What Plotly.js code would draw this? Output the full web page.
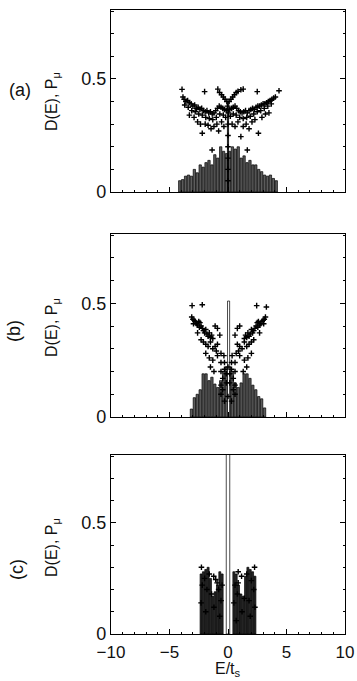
<!DOCTYPE html>
<html>
<head>
<meta charset="utf-8">
<script src="https://cdn.plot.ly/plotly-3.0.1.min.js"></script>
<style>
  body { margin: 0; background: #fff; }
  #chart { width: 357px; height: 681px; }
</style>
</head>
<body>
<div id="chart"></div>
<script>
// panel (a): density of states histogram (bin centres, heights)
var aBinE = [-4.125, -3.875, -3.625, -3.375, -3.125, -2.875, -2.625, -2.375, -2.125, -1.875, -1.625, -1.375,
  -1.125, -0.875, -0.625, -0.375, -0.125, 0.125, 0.375, 0.625, 0.875, 1.125, 1.375, 1.625, 1.875, 2.125,
  2.375, 2.625, 2.875, 3.125, 3.375, 3.625, 3.875, 4.125];
var aBinD = [0.05, 0.055, 0.07, 0.075, 0.07, 0.1, 0.085, 0.12, 0.11, 0.13, 0.14, 0.12,
  0.165, 0.15, 0.2, 0.18, 0.17, 0.18, 0.2, 0.19, 0.2, 0.15, 0.16, 0.13, 0.14, 0.12,
  0.12, 0.1, 0.09, 0.075, 0.07, 0.075, 0.06, 0.05];
var aSpikeE = [0];
var aSpikeD = [0.40];
// panel (a): P_mu points
var aPtE = [-3.93, -2.0, -0.87, 1.3, 2.5, 4.36,
  -0.72, -0.55, -0.4, -0.25, -0.1, 0.1, 0.25, 0.4, 0.55, 0.7, 0.85, 1.1,
  -3.85, -3.75, -3.6, -3.45, -3.3, -3.15, -3.0, -2.85, -2.7, -2.55, -2.4, -2.25, -2.1, -1.95, -1.8, -1.65,
  -1.5, -1.35, -1.2, -1.05, -0.9, -0.75, -0.6, -0.45, -0.3, -0.15,
  0.15, 0.3, 0.45, 0.6, 0.75, 0.9, 1.05, 1.2, 1.35, 1.5, 1.65, 1.8, 1.95, 2.1, 2.25, 2.4, 2.55, 2.7,
  2.85, 3.0, 3.15, 3.3, 3.45, 3.6, 3.75, 3.9, 4.05,
  -3.7, -3.4, -3.1, -2.8, -2.5, -2.2, -1.9, -1.6, -1.3, -1.0, -0.7, -0.4, -0.2, 0.2, 0.45, 0.7, 1.0, 1.3,
  1.6, 1.9, 2.2, 2.5, 2.8, 3.1, 3.4, 3.7,
  -3.3, -2.9, -2.6, -2.35, -2.2, -1.95, -1.7, -1.45, -1.2, -0.95, -0.8, -0.55, -0.35, 0.35, 0.6, 0.85,
  1.1, 1.3, 1.55, 1.8, 2.05, 2.3, 2.6, 2.9, 3.2, 3.5,
  -1.36, 1.65,
  0, 0, 0, 0, 0, 0, 0.05, -0.05];
var aPtP = [0.454, 0.444, 0.455, 0.455, 0.444, 0.448,
  0.44, 0.43, 0.42, 0.41, 0.40, 0.40, 0.41, 0.42, 0.43, 0.44, 0.445, 0.452,
  0.42, 0.41, 0.40, 0.405, 0.395, 0.39, 0.38, 0.385, 0.37, 0.375, 0.365, 0.37, 0.36, 0.355, 0.36, 0.35,
  0.355, 0.345, 0.35, 0.36, 0.37, 0.38, 0.375, 0.37, 0.365, 0.36,
  0.365, 0.37, 0.375, 0.38, 0.37, 0.36, 0.355, 0.35, 0.355, 0.36, 0.35, 0.36, 0.365, 0.37, 0.365, 0.375, 0.38, 0.38,
  0.385, 0.39, 0.39, 0.395, 0.40, 0.405, 0.41, 0.415, 0.42,
  0.385, 0.375, 0.36, 0.355, 0.345, 0.34, 0.33, 0.325, 0.32, 0.33, 0.345, 0.34, 0.33, 0.335, 0.345, 0.34, 0.33, 0.325,
  0.33, 0.335, 0.345, 0.355, 0.36, 0.37, 0.38, 0.39,
  0.34, 0.33, 0.31, 0.3, 0.26, 0.3, 0.295, 0.28, 0.29, 0.3, 0.27, 0.31, 0.29, 0.3, 0.29, 0.31,
  0.245, 0.29, 0.3, 0.28, 0.31, 0.32, 0.26, 0.33, 0.345, 0.35,
  0.186, 0.186,
  0.05, 0.1, 0.15, 0.2, 0.25, 0.3, 0.35, 0.38];

// panel (b)
var bBinE = [-3.125, -2.875, -2.625, -2.375, -2.125, -1.875, -1.625, -1.375, -1.125, -0.875, -0.625, -0.375, -0.125,
  0.125, 0.375, 0.625, 0.875, 1.125, 1.375, 1.625, 1.875, 2.125, 2.375, 2.625, 2.875, 3.125];
var bBinD = [0.035, 0.085, 0.1, 0.12, 0.19, 0.19, 0.16, 0.175, 0.145, 0.13, 0.16, 0.2, 0.22,
  0.22, 0.2, 0.15, 0.13, 0.15, 0.19, 0.19, 0.17, 0.14, 0.12, 0.09, 0.08, 0.04];
var bSpikeE = [0.05];
var bSpikeD = [0.51];
var bPtE = [-3.07, -2.2, 2.45, 3.28,
  -3.1, -3.0, -2.9, -2.95, -2.8, -2.7, -2.6, -2.5, -2.4, -2.45, -2.3, -2.2, -2.1, -2.0, -1.9, -1.8, -1.7, -1.6, -1.5, -1.4, -1.3,
  -2.3, -2.1, -1.9, -1.7, -1.5, -1.3, -1.1, -0.9, -1.0,
  -2.6, -1.1, -0.9, -0.7, -1.9, -1.6, -1.3, -0.9, -0.6, -1.5, -1.2,
  3.2, 3.1, 3.0, 3.05, 2.9, 2.8, 2.7, 2.6, 2.5, 2.55, 2.4, 2.3, 2.2, 2.1, 2.0, 1.9, 1.8, 1.7, 1.6, 1.5, 1.4,
  2.2, 2.0, 1.8, 1.6, 1.4, 1.2, 1.0, 0.8, 0.9,
  2.7, 1.0, 0.8, 0.6, 2.0, 1.7, 1.4, 1.0, 0.7, 1.6, 1.3,
  -0.6, -0.3, 0.3, 0.6, -0.6, -0.3, 0.3, 0.6, -0.45, 0.45, -0.15, 0.15, -0.45, 0.45, 0, -0.3, 0.3,
  -0.6, 0.6, -0.15, 0.15, -0.35, 0.35, 0, -0.6, 0.6];
var bPtP = [0.49, 0.494, 0.49, 0.484,
  0.44, 0.43, 0.425, 0.41, 0.42, 0.41, 0.405, 0.42, 0.415, 0.395, 0.40, 0.39, 0.38, 0.37, 0.385, 0.365, 0.355, 0.37, 0.35, 0.36, 0.345,
  0.34, 0.33, 0.32, 0.31, 0.33, 0.30, 0.31, 0.32, 0.29,
  0.37, 0.40, 0.39, 0.36, 0.28, 0.26, 0.25, 0.27, 0.28, 0.22, 0.2,
  0.44, 0.43, 0.425, 0.41, 0.42, 0.41, 0.405, 0.42, 0.415, 0.395, 0.40, 0.39, 0.38, 0.37, 0.385, 0.365, 0.355, 0.37, 0.35, 0.36, 0.345,
  0.34, 0.33, 0.32, 0.31, 0.33, 0.30, 0.31, 0.32, 0.29,
  0.37, 0.40, 0.39, 0.36, 0.28, 0.26, 0.25, 0.27, 0.28, 0.22, 0.2,
  0.24, 0.24, 0.24, 0.24, 0.2, 0.21, 0.21, 0.2, 0.17, 0.17, 0.15, 0.15, 0.12, 0.12, 0.09, 0.07, 0.07,
  0.14, 0.14, 0.19, 0.19, 0.27, 0.27, 0.22, 0.1, 0.1];

// panel (c)
var cBinE = [-2.3, -2.1, -1.9, -1.7, -1.5, -1.3, -1.1, -0.9, -0.7, -0.5,
  0.5, 0.7, 0.9, 1.1, 1.3, 1.5, 1.7, 1.9, 2.1, 2.3];
var cBinD = [0.27, 0.28, 0.29, 0.30, 0.25, 0.17, 0.19, 0.22, 0.28, 0.27,
  0.28, 0.27, 0.22, 0.18, 0.17, 0.26, 0.30, 0.29, 0.28, 0.26];
var cSpikeE = [0];
var cSpikeD = [0.9];
var cPtE = [-2.27, -1.22, -0.93, -1.05, 0.87, 1.16, 0.87, 2.27,
  -2.2, -2.0, -1.8, -1.6, -2.3, -1.9, -1.4, -1.2, -0.8, -0.6, -0.7, -0.5,
  2.2, 2.0, 1.8, 1.6, 2.3, 1.9, 1.4, 1.2, 0.8, 0.6, 0.7, 0.5];
var cPtP = [0.30, 0.26, 0.23, 0.245, 0.28, 0.26, 0.23, 0.30,
  0.22, 0.25, 0.2, 0.27, 0.14, 0.1, 0.18, 0.12, 0.2, 0.15, 0.08, 0.22,
  0.2, 0.24, 0.15, 0.27, 0.12, 0.08, 0.16, 0.1, 0.18, 0.22, 0.06, 0.14];

var xTicks = [-10, -5, 0, 5, 10];
var panelLabels = ['(a)', '(b)', '(c)'];

var W = 357, H = 681;
var fnt = {family: 'Liberation Sans, Arial, sans-serif', size: 18, color: '#111'};
var xFnt = {family: 'Liberation Sans, Arial, sans-serif', size: 17, color: '#111'};
var titleFnt = {family: 'Liberation Sans, Arial, sans-serif', size: 16, color: '#111'};

function bars(xa, ya, E, D, fill, w) {
  return {type: 'bar', x: E, y: D, xaxis: xa, yaxis: ya, width: w,
    marker: {color: fill, line: {color: '#000', width: 0.7}}, hoverinfo: 'skip'};
}
function pts(xa, ya, E, P) {
  return {type: 'scatter', mode: 'markers', x: E, y: P, xaxis: xa, yaxis: ya,
    marker: {symbol: 'cross-thin', size: 4, color: '#000', line: {width: 1.4, color: '#000'}}, hoverinfo: 'skip'};
}

var data = [
  bars('x', 'y', aBinE, aBinD, '#5c5c5c', 0.2),
  pts('x', 'y', aPtE, aPtP),
  bars('x', 'y', aSpikeE, aSpikeD, '#000', 0.1),
  bars('x2', 'y2', bBinE, bBinD, '#5c5c5c', 0.2),
  pts('x2', 'y2', bPtE, bPtP),
  bars('x2', 'y2', bSpikeE, bSpikeD, '#fff', 0.18),
  bars('x3', 'y3', cBinE, cBinD, '#262626', 0.17),
  pts('x3', 'y3', cPtE, cPtP),
  bars('x3', 'y3', cSpikeE, cSpikeD, '#fff', 0.3)
];

// pixel boxes of the three frames: [top, bottom]
var boxes = [[10, 192], [234, 417], [455, 634]];
var xDom = [111 / W, 345 / W];

function xax(anchor, labels) {
  return {domain: xDom, anchor: anchor, range: [-10, 10], tickvals: xTicks, showticklabels: labels,
    ticks: 'inside', ticklen: 5, tickcolor: '#000', showline: true, linecolor: '#000', linewidth: 1.2,
    mirror: true, showgrid: false, zeroline: false, tickfont: xFnt, ticklabelstandoff: 2,
    minor: {dtick: 1, ticks: 'inside', ticklen: 2.5, tickcolor: '#000'}};
}
function yax(anchor, box) {
  return {domain: [1 - box[1] / H, 1 - box[0] / H], anchor: anchor, range: [0, 0.805],
    tickvals: [0, 0.5], ticktext: ['0', '0.5'], ticks: 'inside', ticklen: 5, tickcolor: '#000',
    showline: true, linecolor: '#000', linewidth: 1.2, mirror: 'ticks', showgrid: false, zeroline: false,
    tickfont: fnt, minor: {dtick: 0.1, ticks: 'inside', ticklen: 2.5, tickcolor: '#000'}};
}

var annotations = [];
var titleY = [102, 328, 548];
var labelPos = [[20, 90, 0], [14, 331, -90], [17, 570, -90]];
for (var i = 0; i < 3; i++) {
  annotations.push({xref: 'paper', yref: 'paper', x: 52 / W, y: 1 - titleY[i] / H, showarrow: false,
    text: 'D(E), P<sub>μ</sub>', textangle: -90, font: titleFnt, xanchor: 'center', yanchor: 'middle'});
  annotations.push({xref: 'paper', yref: 'paper', x: labelPos[i][0] / W, y: 1 - labelPos[i][1] / H,
    showarrow: false, text: panelLabels[i], textangle: labelPos[i][2], font: fnt,
    xanchor: 'center', yanchor: 'middle'});
}
annotations.push({xref: 'paper', yref: 'paper', x: 228 / W, y: 0, showarrow: false,
  text: 'E/t<sub>s</sub>', font: titleFnt, xanchor: 'center', yanchor: 'bottom'});

var layout = {
  width: W, height: H, margin: {l: 0, r: 0, t: 0, b: 0},
  paper_bgcolor: '#fff', plot_bgcolor: '#fff', showlegend: false,
  barmode: 'overlay', font: fnt,
  xaxis: xax('y', false), yaxis: yax('x', boxes[0]),
  xaxis2: xax('y2', false), yaxis2: yax('x2', boxes[1]),
  xaxis3: xax('y3', true), yaxis3: yax('x3', boxes[2]),
  annotations: annotations
};

Plotly.newPlot('chart', data, layout, {staticPlot: true});
</script>
</body>
</html>
